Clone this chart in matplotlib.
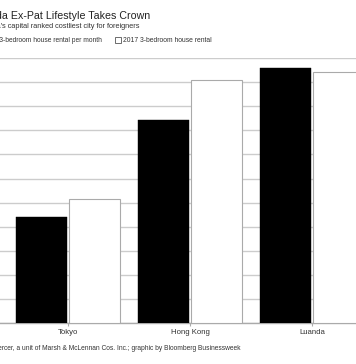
import matplotlib
matplotlib.use("Agg")
from matplotlib import pyplot as plt
from matplotlib.patches import Rectangle
import numpy as np

cities = ["Tokyo", "Hong Kong", "Luanda"]
rent_black = [4.42, 8.42, 10.58]   # thousand USD
rent_white = [5.14, 10.08, 10.40]
grid_ticks = list(range(0, 12))

W, H = 356, 364
fig = plt.figure(figsize=(W / 100, H / 100), dpi=100)
plt.rcParams['font.family'] = ['Liberation Sans', 'DejaVu Sans']

ax = fig.add_axes([0, (H - 323.3) / H, 1, (323.3 - 58) / H])
x = np.arange(len(cities))
ax.bar(x - 0.218, rent_black, width=0.417, color='black', edgecolor='black', linewidth=0.3, zorder=3)
ax.bar(x + 0.218, rent_white, width=0.417, color='white', edgecolor='#aaaaaa', linewidth=0.8, zorder=3)

ax.set_xlim(-0.5536, 2.357)
ax.set_ylim(0, 11)
ax.set_yticks(grid_ticks)
ax.yaxis.grid(True, color='#cccccc', linewidth=1.0, zorder=0)
ax.tick_params(axis='y', length=0, labelleft=False)
ax.set_xticks(x)
ax.set_xticklabels(cities, fontsize=5.6, color='#333333')
ax.tick_params(axis='x', length=2, width=0.8, color='#aaaaaa', pad=2)
for s in ['left', 'right', 'top']:
    ax.spines[s].set_visible(False)
ax.spines['bottom'].set_color('#aaaaaa')
ax.spines['bottom'].set_linewidth(1.0)
ax.set_axisbelow(True)

# header texts, cut off on the left like the reference
fig.text(150 / W, 1 - 16 / H, "Luanda Ex-Pat Lifestyle Takes Crown", ha='right', va='center',
         fontsize=7.65, color='#222222')
fig.text(140 / W, 1 - 26 / H, "Angola's capital ranked costliest city for foreigners", ha='right', va='center',
         fontsize=5.35, color='#333333')

# legend
fig.text(101.7 / W, 1 - 40.3 / H, "2018 3-bedroom house rental per month", ha='right', va='center',
         fontsize=4.75, color='#333333')
fig.patches.append(Rectangle((115 / W, 1 - 42.7 / H), 5.5 / W, 5.5 / H, transform=fig.transFigure,
                             facecolor='white', edgecolor='#555555', linewidth=0.6))
fig.text(122.7 / W, 1 - 40.3 / H, "2017 3-bedroom house rental", ha='left', va='center',
         fontsize=4.85, color='#333333')

fig.text(240.7 / W, 1 - 349 / H, "Source: Mercer, a unit of Marsh & McLennan Cos. Inc.; graphic by Bloomberg Businessweek",
         ha='right', va='center', fontsize=4.8, color='#333333')

fig.savefig("out.png", dpi=100)
